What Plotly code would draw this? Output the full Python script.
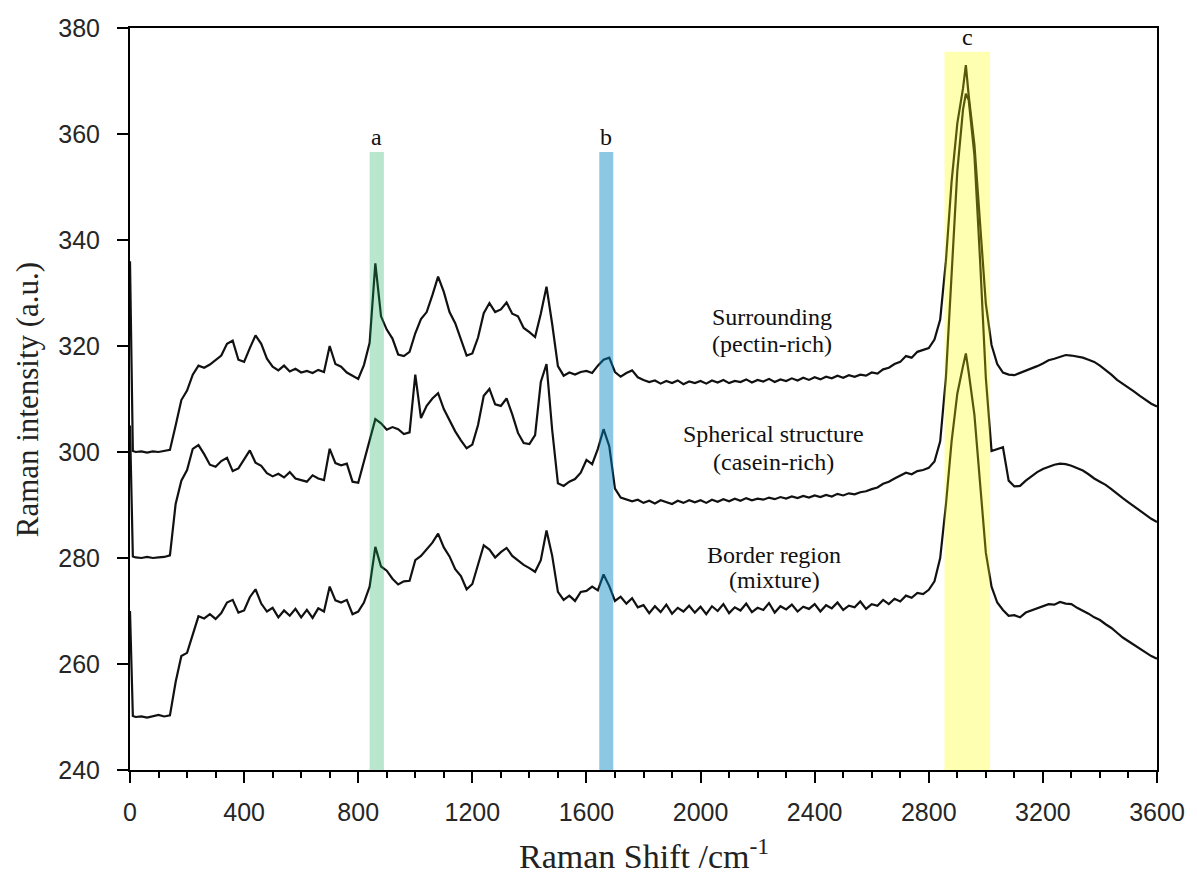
import plotly.graph_objects as go

# Shared Raman shift grid (cm^-1) for the three spectra
raman_shift = ([0, 10] + list(range(20, 2921, 20)) + [2930]
               + list(range(2940, 3601, 20)))

# Surrounding (pectin-rich)
surrounding = (
    [336.0, 300.2]
    + [300.0, 300.1, 299.9, 300.1, 300.0, 300.2, 300.4, 305.0, 309.8, 311.6,
       314.6, 316.3, 315.9, 316.5, 317.3, 318.2, 320.4, 321.0, 317.4]
    + [317.0, 319.6, 322.0, 320.4, 317.6, 316.1, 315.4, 316.3, 315.2, 315.7,
       315.0, 315.3, 314.9, 315.5, 315.1, 320.0, 316.6, 316.1, 315.0, 314.4]
    + [313.8, 316.4, 320.6, 335.6, 325.6, 323.1, 321.4, 318.4, 318.1, 318.9,
       322.4, 325.1, 326.4, 329.6, 333.1, 330.2, 326.4, 324.3, 321.4, 318.2]
    + [318.6, 321.6, 326.2, 328.1, 326.4, 326.9, 328.2, 326.1, 325.6, 323.4,
       322.6, 321.7, 326.1, 331.2, 324.1, 316.2, 314.4, 315.0, 314.6, 315.1]
    + [315.3, 314.9, 316.3, 317.4, 317.8, 315.1, 314.2, 314.9, 315.4, 314.1,
       313.6, 313.2, 313.5, 312.9, 313.4, 313.0, 313.5, 312.8, 313.3, 313.0]
    + [313.4, 312.9, 313.5, 313.1, 313.6, 313.0, 313.4, 313.2, 313.7, 313.1,
       313.6, 313.3, 313.8, 313.2, 313.7, 313.4, 313.9, 313.5, 314.0, 313.6]
    + [314.1, 313.7, 314.2, 313.9, 314.4, 314.0, 314.5, 314.2, 314.6, 314.4,
       315.0, 314.8, 315.6, 315.9, 316.6, 317.0, 318.1, 317.8, 318.9, 319.2]
    + [319.6, 321.2, 325.0, 336.0, 351.0, 362.0, 368.6]
    + [373.0]
    + [367.2, 358.0, 343.0, 328.0, 320.2, 316.6, 315.0, 314.6, 314.5, 314.9,
       315.3, 315.8, 316.2]
    + [316.7, 317.3, 317.6, 318.0, 318.3, 318.2, 318.0, 317.8, 317.4, 317.0,
       316.3, 315.5, 314.6, 313.6, 312.9, 312.1, 311.4, 310.6, 309.9, 309.1,
       308.6]
)

# Spherical structure (casein-rich)
spherical = (
    [305.0, 280.3]
    + [280.1, 280.0, 280.2, 280.0, 280.1, 280.2, 280.5, 290.2, 294.6, 296.6,
       300.6, 301.3, 299.6, 297.6, 297.2, 298.3, 298.9, 296.4, 296.9]
    + [298.6, 300.3, 298.0, 297.4, 296.0, 295.4, 295.9, 295.2, 296.2, 295.0,
       294.7, 294.4, 295.6, 295.0, 294.7, 300.6, 297.9, 297.5, 297.8, 294.4]
    + [294.2, 298.0, 302.2, 306.2, 305.4, 304.2, 304.7, 304.3, 303.4, 303.7,
       314.6, 306.4, 308.7, 310.1, 311.1, 308.1, 306.1, 303.9, 302.2, 300.7]
    + [301.4, 305.1, 310.6, 311.9, 309.0, 308.7, 310.1, 307.1, 303.6, 301.7,
       301.5, 303.2, 313.2, 316.6, 304.1, 294.1, 293.6, 294.4, 294.9, 296.1]
    + [298.5, 297.7, 300.6, 304.3, 301.1, 293.1, 291.4, 291.1, 290.7, 291.0,
       290.4, 290.8, 290.3, 290.9, 290.5, 290.2, 290.8, 290.4, 290.9, 290.5]
    + [290.9, 290.4, 291.0, 290.6, 291.1, 290.7, 291.2, 290.8, 291.3, 290.9,
       291.2, 291.0, 291.4, 291.1, 291.5, 291.2, 291.6, 291.3, 291.7, 291.4]
    + [291.8, 291.5, 291.9, 291.6, 292.1, 291.8, 292.2, 292.0, 292.4, 292.6,
       293.0, 293.3, 294.0, 294.4, 295.0, 295.6, 296.1, 295.8, 296.4, 296.6]
    + [297.0, 298.2, 302.0, 314.0, 333.0, 353.0, 364.6]
    + [367.6]
    + [366.4, 356.0, 336.0, 314.0, 300.2, 300.6, 300.9, 294.6, 293.5, 293.6,
       294.6, 295.4, 296.2]
    + [296.8, 297.2, 297.6, 297.8, 297.7, 297.4, 297.0, 296.5, 295.8, 295.0,
       294.4, 293.8, 293.0, 292.1, 291.3, 290.5, 289.7, 289.0, 288.2, 287.4,
       286.8]
)

# Border region (mixture)
border = (
    [270.0, 250.2]
    + [250.0, 250.1, 249.9, 250.1, 250.4, 250.1, 250.3, 256.6, 261.5, 262.1,
       265.8, 269.0, 268.6, 269.4, 268.5, 269.6, 271.6, 272.1, 269.7]
    + [270.1, 272.6, 274.1, 271.4, 269.9, 270.6, 268.8, 270.1, 269.1, 270.4,
       268.8, 270.2, 268.7, 270.5, 269.9, 274.6, 272.0, 271.6, 272.1, 269.4]
    + [269.9, 271.6, 274.6, 282.1, 278.4, 277.6, 276.1, 275.0, 275.6, 275.7,
       279.6, 280.4, 281.6, 282.9, 284.6, 282.0, 280.3, 277.9, 276.6, 274.1]
    + [275.1, 278.6, 282.4, 281.6, 280.1, 281.1, 281.9, 280.4, 279.6, 278.7,
       278.1, 277.4, 279.6, 285.2, 280.4, 273.6, 272.1, 272.9, 271.9, 273.6]
    + [273.8, 274.6, 273.9, 276.9, 274.7, 271.9, 272.7, 271.4, 272.4, 270.7,
       271.1, 269.6, 270.9, 269.8, 271.2, 269.5, 270.6, 269.9, 271.0, 269.7]
    + [270.8, 269.4, 270.9, 270.0, 271.3, 269.6, 270.7, 270.1, 271.4, 269.8,
       270.6, 270.2, 271.5, 269.7, 270.9, 270.3, 271.2, 269.9, 270.8, 270.4]
    + [271.3, 269.9, 271.1, 270.5, 271.6, 270.2, 271.0, 270.7, 271.8, 270.4,
       271.3, 271.0, 272.1, 271.3, 272.3, 271.8, 272.9, 272.5, 273.4, 273.2]
    + [274.0, 275.6, 280.0, 290.0, 302.0, 311.0, 316.2]
    + [318.6]
    + [315.0, 307.0, 294.0, 281.0, 274.6, 271.6, 270.2, 269.1, 269.2, 268.8,
       269.7, 270.1, 270.6]
    + [270.9, 271.3, 271.2, 271.7, 271.4, 271.3, 270.6, 270.1, 269.5, 268.8,
       268.3, 267.5, 266.8, 265.9, 265.0, 264.3, 263.6, 262.8, 262.1, 261.5,
       261.0]
)

# Highlighted bands: label, start, end, top, fill colour, opacity
band_labels = ["a", "b", "c"]
band_start = [840, 1645, 2855]
band_end = [890, 1694, 3015]
band_top = [356.6, 356.6, 375.5]
band_colors = ["rgb(20,175,90)", "rgb(0,133,196)", "rgb(255,255,0)"]
band_opacity = [0.3, 0.45, 0.3]

# Curve labels (two lines each)
curve_label_lines = [
    ("Surrounding", 2250, 325.4), ("(pectin-rich)", 2250, 320.4),
    ("Spherical structure", 2255, 303.4), ("(casein-rich)", 2255, 298.2),
    ("Border region", 2258, 280.6), ("(mixture)", 2258, 275.9),
]

serif = "Liberation Serif, Times New Roman, serif"
sans = "Liberation Sans, Arial, sans-serif"

fig = go.Figure()
for name, ys in [("Surrounding", surrounding), ("Spherical structure", spherical),
                 ("Border region", border)]:
    fig.add_trace(go.Scatter(x=raman_shift, y=ys, mode="lines", name=name,
                             line=dict(color="#111111", width=2.2),
                             showlegend=False))

for lab, x0, x1, top, col, op in zip(band_labels, band_start, band_end,
                                     band_top, band_colors, band_opacity):
    fig.add_shape(type="rect", xref="x", yref="y", x0=x0, x1=x1, y0=240, y1=top,
                  fillcolor=col, opacity=op, line_width=0, layer="above")
    fig.add_annotation(x=(x0 + x1) / 2, y=top, text=lab, showarrow=False,
                       yanchor="bottom", yshift=0,
                       font=dict(family=serif, size=24, color="#111111"))

for text, x, y in curve_label_lines:
    fig.add_annotation(x=x, y=y, text=text, showarrow=False,
                       xanchor="center", yanchor="middle",
                       font=dict(family=serif, size=24, color="#111111"))

# Axis titles
fig.add_annotation(xref="paper", yref="paper", x=-0.1, y=0.5,
                   text="Raman intensity (a.u.)", textangle=-90,
                   showarrow=False, xanchor="center", yanchor="middle",
                   font=dict(family=serif, size=31, color="#222222"))
fig.add_annotation(xref="paper", yref="paper", x=0.5, y=-0.113,
                   text="Raman Shift /cm<sup>-1</sup>",
                   showarrow=False, xanchor="center", yanchor="middle",
                   font=dict(family=serif, size=34, color="#222222"))

fig.update_xaxes(range=[0, 3600], tickmode="array",
                 tickvals=[0, 400, 800, 1200, 1600, 2000, 2400, 2800, 3200, 3600],
                 ticks="outside", ticklen=11, tickwidth=2, tickcolor="black",
                 minor=dict(dtick=100, ticks="outside", ticklen=6, tickwidth=1.5,
                            tickcolor="black", showgrid=False),
                 showline=True, linecolor="black", linewidth=2, mirror=True,
                 showgrid=False, zeroline=False, ticklabelstandoff=8,
                 tickfont=dict(family=sans, size=25, color="#262626"))
fig.update_yaxes(range=[240, 380], dtick=20, ticks="outside", ticklen=11,
                 tickwidth=2, tickcolor="black",
                 showline=True, linecolor="black", linewidth=2, mirror=True,
                 showgrid=False, zeroline=False, ticklabelstandoff=12,
                 tickfont=dict(family=sans, size=25, color="#262626"))

fig.update_layout(width=1197, height=879,
                  margin=dict(l=130, r=34, t=28, b=109),
                  plot_bgcolor="white", paper_bgcolor="white")

fig.write_html("out.html")
